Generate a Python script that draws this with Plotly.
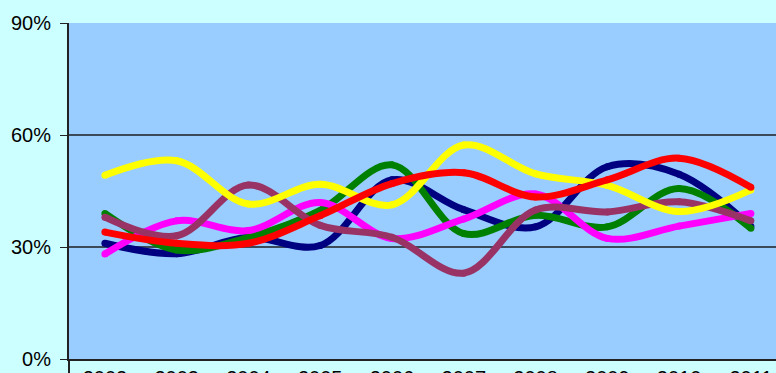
import plotly.graph_objects as go

years = ["2002", "2003", "2004", "2005", "2006", "2007", "2008", "2009", "2010", "2011"]

navy = [31.0, 28.2, 32.6, 30.4, 48.0, 40.0, 35.4, 51.5, 49.5, 35.5]
green = [39.0, 29.2, 32.6, 39.8, 52.0, 33.6, 38.5, 35.4, 45.7, 35.0]
magenta = [28.1, 37.0, 34.4, 41.9, 32.3, 37.5, 44.2, 32.3, 35.6, 39.0]
plum = [38.0, 33.0, 46.6, 35.8, 32.6, 23.0, 39.9, 39.4, 42.1, 37.0]
yellow = [49.2, 53.1, 41.5, 46.8, 41.3, 57.3, 49.6, 46.5, 39.5, 45.3]
red = [34.0, 31.0, 31.0, 38.4, 47.0, 49.9, 43.4, 48.0, 53.8, 46.0]

series = [
    (navy, "#000080"),
    (green, "#008000"),
    (magenta, "#FF00FF"),
    (plum, "#993366"),
    (yellow, "#FFFF00"),
    (red, "#FF0000"),
]

fig = go.Figure()
for vals, col in series:
    fig.add_trace(go.Scatter(
        x=years, y=vals, mode="lines+markers",
        line=dict(color=col, width=7, shape="spline", smoothing=1),
        marker=dict(color=col, size=7, line=dict(width=0)),
        showlegend=False, hoverinfo="skip",
    ))

font = dict(family="Liberation Sans, Arial, sans-serif", size=20, color="#000000")

fig.update_layout(
    width=776, height=373,
    margin=dict(l=69, r=0, t=23, b=14, pad=0),
    paper_bgcolor="#CCFFFF",
    plot_bgcolor="#99CCFF",
    font=font,
    xaxis=dict(
        type="category", range=[-0.5, 9.35],
        showgrid=False, zeroline=False,
        showline=True, linecolor="#222222", linewidth=2,
        ticks="", tickfont=font, automargin=False,
    ),
    yaxis=dict(
        range=[0, 90], dtick=30, tick0=0, ticksuffix="%",
        showgrid=True, gridcolor="#3a4a5a", gridwidth=1.5,
        zeroline=False,
        showline=True, linecolor="#222222", linewidth=2,
        ticks="outside", ticklen=7, tickcolor="#222222",
        ticklabelstandoff=5,
        tickfont=font, automargin=False,
    ),
    shapes=[
        # left axis continues below the category axis
        dict(type="line", xref="x domain", yref="paper",
             x0=0, x1=0, y0=0, y1=-0.05,
             line=dict(color="#222222", width=2)),
    ],
)

fig.write_html("out.html")
